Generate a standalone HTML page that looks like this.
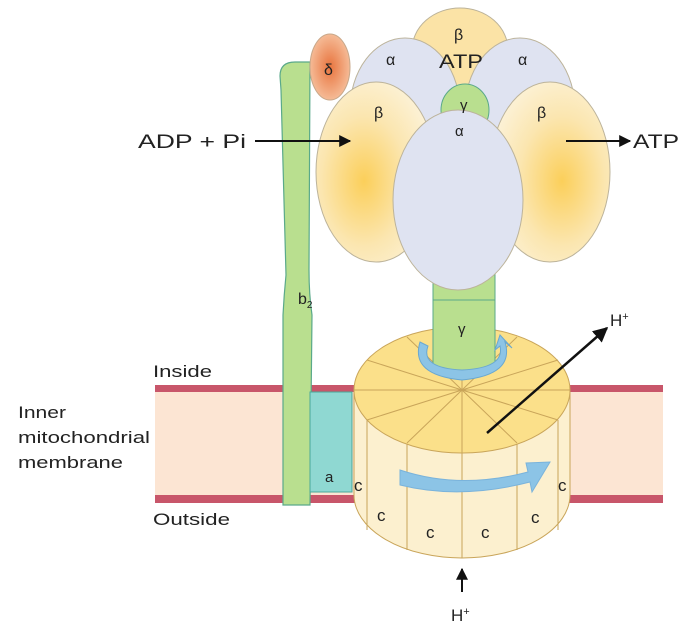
<!DOCTYPE html>
<html><head><meta charset="utf-8"><style>
html,body{margin:0;padding:0;background:#fff;}
svg{display:block;}
text{font-family:"Liberation Sans",sans-serif;fill:#222;}
</style></head><body>
<svg width="682" height="633" viewBox="0 0 682 633">
<defs>
<radialGradient id="bg" cx="0.4" cy="0.55" r="0.6"><stop offset="0" stop-color="#fbcf5a"/><stop offset="0.6" stop-color="#fbe6b0"/><stop offset="1" stop-color="#fcf1d4"/></radialGradient>
<radialGradient id="bgr" cx="0.6" cy="0.55" r="0.6"><stop offset="0" stop-color="#fbcf5a"/><stop offset="0.6" stop-color="#fbe6b0"/><stop offset="1" stop-color="#fcf1d4"/></radialGradient>
<radialGradient id="dg" cx="0.5" cy="0.5" r="0.6"><stop offset="0" stop-color="#e8743e"/><stop offset="1" stop-color="#f8c9a8"/></radialGradient>
<marker id="ah" viewBox="0 0 10 10" refX="9" refY="5" markerWidth="6" markerHeight="6" orient="auto"><path d="M0,0 L10,5 L0,10 z" fill="#111"/></marker>
</defs>
<g>
<rect x="155" y="388" width="508" height="110" fill="#fce5d3"/>
<rect x="155" y="385" width="508" height="7" fill="#c8566a"/>
<rect x="155" y="495" width="508" height="8" fill="#c8566a"/>
</g>
<path d="M280,76 Q280,62 295,62 L310,62 L309,270 Q309,295 312,315 L310,505 L283,505 L283,315 Q284,295 286,275 L281,90 Z" fill="#b9df8f" stroke="#5aa98a" stroke-width="1.2"/>
<text x="298" y="304" font-size="16">b<tspan font-size="10" dy="4">2</tspan></text>
<rect x="310" y="392" width="42" height="100" fill="#8fd8d2" stroke="#4aa99a" stroke-width="1"/>
<text x="325" y="482" font-size="15">a</text>
<ellipse cx="330" cy="67" rx="20" ry="33" fill="url(#dg)" stroke="#c9a88a"/>
<text x="324" y="75" font-size="16">δ</text>
<g stroke="#bcb39a" stroke-width="1">
<ellipse cx="460" cy="50" rx="48" ry="42" fill="#fbe3a6"/>
<ellipse cx="405" cy="110" rx="55" ry="72" fill="#dfe3f1"/>
<ellipse cx="520" cy="110" rx="55" ry="72" fill="#dfe3f1"/>
<ellipse cx="465" cy="110" rx="24" ry="26" fill="#b9df8f" stroke="#5aa98a"/>
<ellipse cx="376" cy="172" rx="60" ry="90" fill="url(#bg)"/>
<ellipse cx="550" cy="172" rx="60" ry="90" fill="url(#bgr)"/>
<rect x="433" y="255" width="62" height="115" fill="#b9df8f" stroke="#5aa98a"/>
<ellipse cx="458" cy="200" rx="65" ry="90" fill="#dfe3f1"/>
</g>
<text x="454" y="40" font-size="16">β</text>
<text x="439" y="68" font-size="19" textLength="44" lengthAdjust="spacingAndGlyphs">ATP</text>
<text x="386" y="65" font-size="16">α</text>
<text x="518" y="65" font-size="16">α</text>
<text x="460" y="110" font-size="15">γ</text>
<text x="374" y="118" font-size="16">β</text>
<text x="537" y="118" font-size="16">β</text>
<text x="455" y="136" font-size="15">α</text>
<g stroke="#c9a55a" stroke-width="1">
<path d="M354,390 L354,495 A108,63 0 0 0 570,495 L570,390 Z" fill="#fcf0cf"/>
<line x1="367" y1="420" x2="367" y2="530"/><line x1="407" y1="440" x2="407" y2="550"/>
<line x1="462" y1="452" x2="462" y2="558"/><line x1="517" y1="440" x2="517" y2="550"/>
<line x1="558" y1="420" x2="558" y2="530"/>
<ellipse cx="462" cy="390" rx="108" ry="63" fill="#fbe08a"/>
<line x1="354" y1="390" x2="570" y2="390"/><line x1="462" y1="327" x2="462" y2="453"/>
<line x1="462" y1="390" x2="367" y2="420"/><line x1="462" y1="390" x2="407" y2="443"/>
<line x1="462" y1="390" x2="517" y2="443"/><line x1="462" y1="390" x2="558" y2="420"/>
<line x1="462" y1="390" x2="367" y2="360"/><line x1="462" y1="390" x2="407" y2="337"/>
<line x1="462" y1="390" x2="517" y2="337"/><line x1="462" y1="390" x2="558" y2="360"/>
</g>
<rect x="433" y="300" width="62" height="70" fill="#b9df8f" stroke="#5aa98a"/>
<text x="458" y="334" font-size="15">γ</text>
<path d="M420,342 Q410,375 462,380 Q515,375 505,342 L512,348 L500,335 L495,350 L500,346 Q505,368 462,370 Q420,368 428,346 Z" fill="#8cc4e6" stroke="#6aa8d0"/>
<path d="M400,470 Q460,490 528,472 L526,463 L550,462 L532,492 L530,482 Q460,500 400,485 Z" fill="#8cc4e6" stroke="#7ab3db"/>
<g font-size="17">
<text x="354" y="491">c</text><text x="377" y="521">c</text><text x="426" y="538">c</text><text x="481" y="538">c</text><text x="531" y="523">c</text><text x="558" y="491">c</text>
</g>
<line x1="255" y1="141" x2="350" y2="141" stroke="#111" stroke-width="2" marker-end="url(#ah)"/>
<text x="138" y="148" font-size="19" textLength="108" lengthAdjust="spacingAndGlyphs">ADP + Pi</text>
<line x1="566" y1="141" x2="630" y2="141" stroke="#111" stroke-width="2" marker-end="url(#ah)"/>
<text x="633" y="148" font-size="19" textLength="46" lengthAdjust="spacingAndGlyphs">ATP</text>
<line x1="487" y1="433" x2="607" y2="328" stroke="#111" stroke-width="2.5" marker-end="url(#ah)"/>
<text x="610" y="326" font-size="17">H<tspan font-size="11" dy="-6">+</tspan></text>
<line x1="462" y1="592" x2="462" y2="569" stroke="#111" stroke-width="2" marker-end="url(#ah)"/>
<text x="451" y="621" font-size="17">H<tspan font-size="11" dy="-6">+</tspan></text>
<text x="153" y="377" font-size="17" textLength="59" lengthAdjust="spacingAndGlyphs" fill="#444">Inside</text>
<text x="153" y="525" font-size="17" textLength="77" lengthAdjust="spacingAndGlyphs" fill="#444">Outside</text>
<g font-size="17">
<text x="18" y="418" textLength="48" lengthAdjust="spacingAndGlyphs">Inner</text><text x="18" y="443" textLength="132" lengthAdjust="spacingAndGlyphs">mitochondrial</text><text x="18" y="468" textLength="105" lengthAdjust="spacingAndGlyphs">membrane</text>
</g>
</svg>
</body></html>
